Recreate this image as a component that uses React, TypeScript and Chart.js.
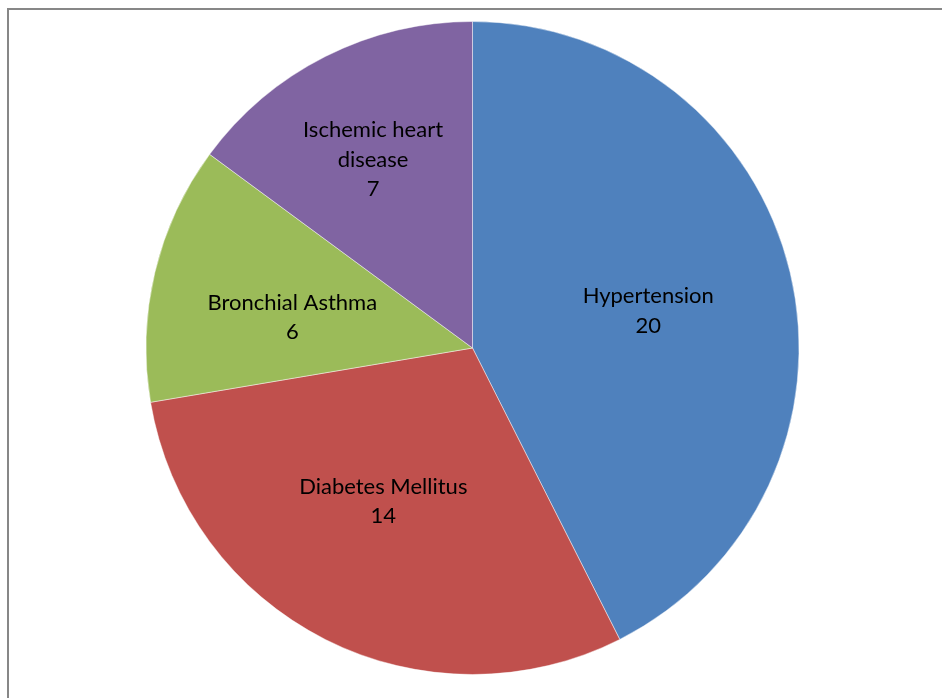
import React, { useEffect, useRef } from "react";
import { Chart, registerables } from "chart.js";

Chart.register(...registerables);

const categories: (string | string[])[] = [
  "Hypertension",
  "Diabetes Mellitus",
  "Bronchial Asthma",
  ["Ischemic heart", "disease"],
];
const values = [20, 14, 6, 7];
const colors = ["#4F81BD", "#C0504D", "#9BBB59", "#8064A2"];
// label placement: fraction of radius and angular nudge (degrees) from slice middle
const labelRadius = [0.55, 0.543, 0.56, 0.653];
const labelNudgeDeg = [1.5, 3.4, -3.7, -1.0];

const FONT = "Lato, 'Open Sans', sans-serif";

const labelPlugin = {
  id: "sliceLabels",
  afterDatasetsDraw(chart: any) {
    const ctx = chart.ctx;
    const meta = chart.getDatasetMeta(0);
    ctx.save();
    ctx.fillStyle = "#000";
    ctx.font = `22px ${FONT}`;
    ctx.textAlign = "center";
    ctx.textBaseline = "middle";
    const lh = 29.5;
    meta.data.forEach((arc: any, i: number) => {
      const { x, y, startAngle, endAngle, outerRadius } = arc.getProps(
        ["x", "y", "startAngle", "endAngle", "outerRadius"],
        true
      );
      const mid = (startAngle + endAngle) / 2 + (labelNudgeDeg[i] * Math.PI) / 180;
      const r = outerRadius * labelRadius[i];
      const cx = x + Math.cos(mid) * r;
      const cy = y + Math.sin(mid) * r;
      const cat = categories[i];
      const lines = (Array.isArray(cat) ? cat : [cat]).concat([String(values[i])]);
      const top = cy - ((lines.length - 1) * lh) / 2;
      lines.forEach((t, k) => ctx.fillText(t, cx, top + k * lh));
    });
    ctx.restore();
  },
};

export default function App() {
  const ref = useRef<HTMLCanvasElement>(null);
  useEffect(() => {
    const chart = new Chart(ref.current!, {
      type: "pie",
      data: {
        labels: categories as any,
        datasets: [
          {
            data: values,
            backgroundColor: colors,
            borderColor: "rgba(255,255,255,0.45)",
            borderWidth: 1,
          },
        ],
      },
      options: {
        animation: false,
        responsive: false,
        maintainAspectRatio: false,
        layout: { padding: { left: 3, right: 0, top: 21, bottom: 23 } },
        plugins: {
          legend: { display: false },
          tooltip: { enabled: false },
          title: { display: false },
        },
      },
      plugins: [labelPlugin],
    });
    return () => chart.destroy();
  }, []);
  return (
    <>
      <div
        style={{
          position: "fixed",
          left: 7,
          top: 8,
          width: 942 - 7,
          height: 698 - 8,
          borderLeft: "2px solid #878787",
          borderTop: "2px solid #878787",
          boxSizing: "border-box",
          background: "#fff",
        }}
      />
      <canvas
        ref={ref}
        width={942}
        height={698}
        style={{ position: "fixed", left: 0, top: 0, width: 942, height: 698 }}
      />
    </>
  );
}
